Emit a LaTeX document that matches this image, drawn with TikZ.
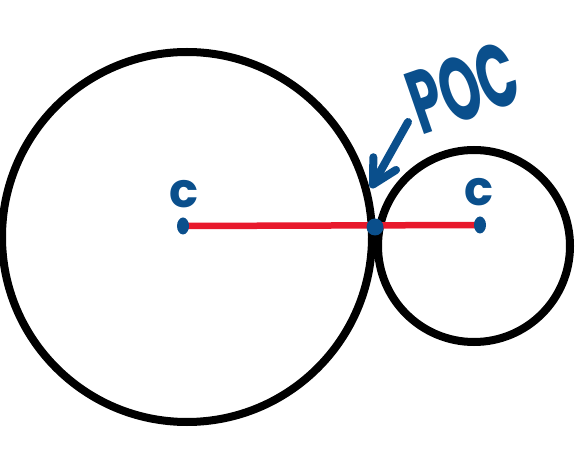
\documentclass[tikz,border=0pt]{standalone}
\usepackage{fontspec}
\newfontfamily\handfont{Poppins}
\definecolor{inkc}{HTML}{0A4F8C}
\definecolor{radc}{HTML}{E8192C}
\usetikzlibrary{arrows.meta,positioning,calc,shapes.geometric}
\tikzset{
  rim/.style={draw=black,line width=8pt},
  radline/.style={draw=radc,line width=6.5pt},
  cdot/.style={ellipse,fill=inkc,inner sep=0pt,minimum width=12pt,minimum height=17pt},
  pdot/.style={circle,fill=inkc,inner sep=0pt,minimum size=17pt},
  clab/.style={font=\handfont\bfseries\fontsize{48}{48}\selectfont,text=inkc,inner sep=0pt},
  plab/.style={font=\handfont\bfseries\fontsize{62}{62}\selectfont,text=inkc,inner sep=0pt,rotate=19},
  ptr/.style={draw=inkc,line width=8pt,line cap=round,-{Straight Barb[length=24pt,width=26pt,round]}},
}
\begin{document}
\begin{tikzpicture}[x=1pt,y=1pt]
  \useasboundingbox (0,0) rectangle (576,464);
  \draw[rim] (187,227) circle (185);
  \draw[rim] (474,218) circle (96);
  \coordinate (cb) at (183,238);
  \coordinate (cs) at (480,239);
  \draw[radline] (cb) -- (cs);
  \node[cdot] (cbig) at (cb) {};
  \node[cdot] (csmall) at (cs) {};
  \node[pdot] (poc) at (375,237) {};
  \node[clab] (cbiglab) at (184,270) {c};
  \node[clab] (csmalllab) at (479,272) {c};
  \node[plab] (poclab) at (463,376) {\scalebox{0.82}[1.45]{POC}};
  \coordinate (tail) at (408,342);
  \coordinate (tip) at (371,276);
  \draw[ptr] (tail) -- (tip);
\end{tikzpicture}
\end{document}
